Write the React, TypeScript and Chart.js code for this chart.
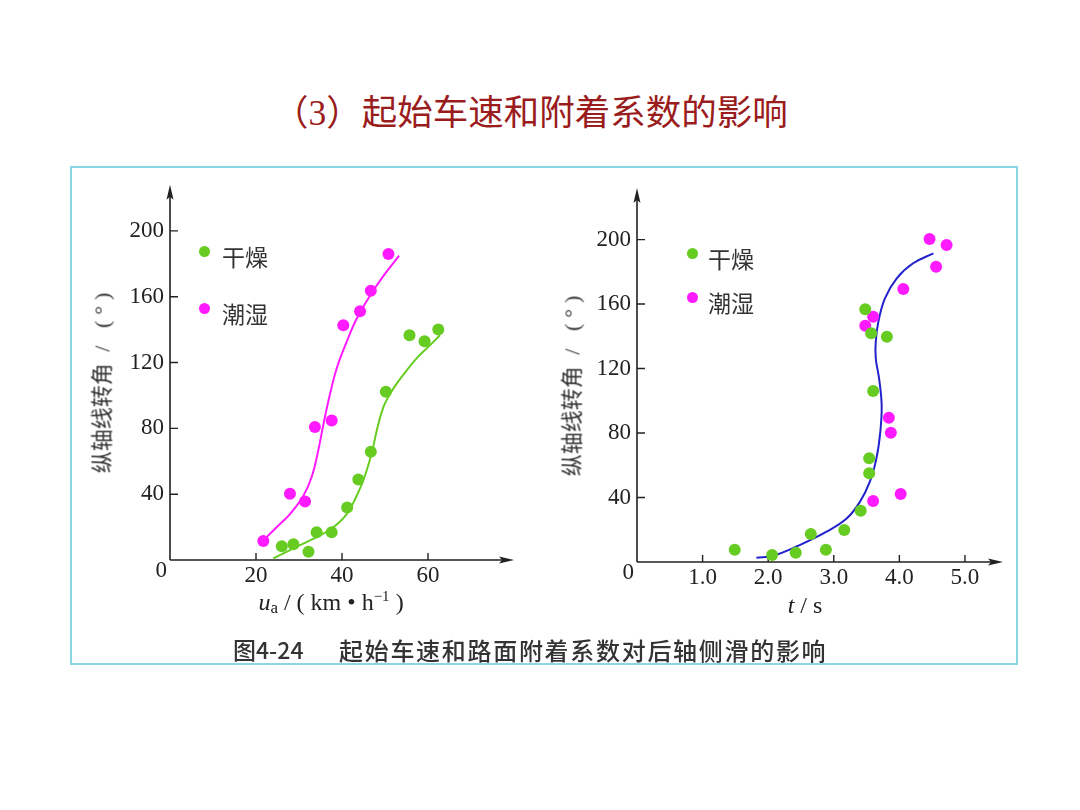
import React, { useEffect, useRef } from "react";
import { Chart, registerables } from "chart.js";

Chart.register(...registerables);

// ---------- Left chart: initial speed (km/h) vs yaw angle ----------
const speedDryX = [26.0, 28.7, 32.2, 34.1, 37.6, 41.2, 43.8, 46.7, 50.2, 55.7, 59.2, 62.4];
const speedDryY = [8.4, 9.6, 5.0, 16.9, 16.9, 31.9, 48.9, 65.8, 102.2, 136.6, 133.0, 140.0];
const speedWetX = [21.7, 27.9, 31.4, 33.7, 37.6, 40.3, 44.2, 46.7, 50.8];
const speedWetY = [11.5, 40.3, 35.5, 80.8, 84.8, 142.6, 151.2, 163.6, 185.9];
const speedDryCurveX = [24.0, 27.1, 31.0, 34.9, 38.0, 41.1, 43.4, 45.3, 46.9, 48.1, 49.6, 51.6, 54.3, 57.4, 60.5, 62.8];
const speedDryCurveY = [1.0, 5.0, 10.0, 15.0, 19.9, 27.9, 38.9, 50.9, 64.8, 78.8, 92.8, 102.7, 112.7, 122.7, 130.6, 136.6];
const speedWetCurveX = [22.1, 24.8, 27.9, 31.0, 33.0, 34.5, 35.7, 37.2, 38.8, 41.1, 43.4, 46.5, 49.6, 53.3];
const speedWetCurveY = [13.0, 19.9, 27.9, 38.9, 50.9, 66.8, 82.8, 100.7, 116.7, 132.7, 146.6, 160.6, 172.5, 184.9];
const speedTicks = [20, 40, 60];

// ---------- Right chart: time (s) vs yaw angle ----------
const timeDryX = [1.49, 2.06, 2.42, 2.65, 2.88, 3.16, 3.41, 3.54, 3.54, 3.6, 3.57, 3.48, 3.81];
const timeDryY = [7.6, 4.3, 5.8, 17.4, 7.6, 19.9, 31.8, 55.0, 64.3, 106.1, 141.9, 156.8, 139.8];
const timeWetX = [3.48, 3.6, 3.6, 3.84, 3.87, 4.02, 4.06, 4.46, 4.56, 4.72];
const timeWetY = [146.6, 152.2, 37.9, 89.5, 80.2, 42.2, 169.4, 200.4, 183.2, 196.7];
const timeCurveX = [1.82, 2.08, 2.48, 2.89, 3.2, 3.4, 3.55, 3.65, 3.71, 3.73, 3.69, 3.64, 3.64, 3.68, 3.78, 3.96, 4.21, 4.52];
const timeCurveY = [2.7, 3.9, 10.5, 18.8, 27.1, 37.4, 49.8, 64.3, 80.9, 97.4, 114.0, 126.4, 136.7, 149.1, 163.6, 176.0, 185.3, 191.5];
const timeTicks = [1, 2, 3, 4, 5];

const angleTicks = [40, 80, 120, 160, 200];
const legendLabels = ["干燥", "潮湿"];

const GREEN = "#66cc22";
const MAGENTA = "#ff1aff";
const BLUE = "#2222cc";
const AXIS = "#222";
const SERIF = "'Liberation Serif', 'Times New Roman', serif";
const CJK = "'Noto Sans CJK SC', 'Noto Sans', sans-serif";

const pts = (xs: number[], ys: number[]) => xs.map((x, i) => ({ x, y: ys[i] }));

const arrowAxes = {
  id: "arrowAxes",
  beforeDatasetsDraw(chart: any) {
    const { ctx, chartArea, scales } = chart;
    const xs = scales.x;
    const ys = scales.y;
    const ox = xs.getPixelForValue(xs.min);
    const oy = ys.getPixelForValue(ys.min);
    const right = chartArea.right;
    const top = chartArea.top;
    ctx.save();
    ctx.strokeStyle = AXIS;
    ctx.fillStyle = AXIS;
    ctx.lineWidth = 1.6;
    ctx.beginPath();
    ctx.moveTo(ox, oy);
    ctx.lineTo(right - 8, oy);
    ctx.moveTo(ox, oy);
    ctx.lineTo(ox, top + 8);
    ctx.stroke();
    // arrowheads
    ctx.beginPath();
    ctx.moveTo(right, oy);
    ctx.lineTo(right - 15, oy - 3.5);
    ctx.lineTo(right - 12, oy);
    ctx.lineTo(right - 15, oy + 3.5);
    ctx.closePath();
    ctx.fill();
    ctx.beginPath();
    ctx.moveTo(ox, top);
    ctx.lineTo(ox - 3.5, top + 15);
    ctx.lineTo(ox, top + 12);
    ctx.lineTo(ox + 3.5, top + 15);
    ctx.closePath();
    ctx.fill();
    // inward tick marks
    ctx.lineWidth = 1.4;
    ctx.beginPath();
    xs.ticks.forEach((t: any) => {
      const p = xs.getPixelForValue(t.value);
      ctx.moveTo(p, oy);
      ctx.lineTo(p, oy - 7);
    });
    ys.ticks.forEach((t: any) => {
      const p = ys.getPixelForValue(t.value);
      ctx.moveTo(ox, p);
      ctx.lineTo(ox + 8, p);
    });
    ctx.stroke();
    // origin label
    ctx.font = `23px ${SERIF}`;
    ctx.textAlign = "right";
    ctx.textBaseline = "middle";
    ctx.fillStyle = AXIS;
    ctx.fillText("0", ox - 3, oy + 11);
    ctx.restore();
  },
};

type Cfg = {
  datasets: any[];
  xMax: number;
  yMax: number;
  xTicks: number[];
  xFmt: (v: number) => string;
  yWidth: number;
  xHeight: number;
  padTop: number;
  padRight: number;
};

function buildConfig(c: Cfg): any {
  return {
    type: "scatter",
    data: { datasets: c.datasets },
    plugins: [arrowAxes],
    options: {
      animation: false,
      responsive: false,
      events: [],
      layout: { padding: { left: 0, top: c.padTop, right: c.padRight, bottom: 0 } },
      plugins: { legend: { display: false }, tooltip: { enabled: false } },
      scales: {
        x: {
          type: "linear",
          min: 0,
          max: c.xMax,
          grid: { display: false, drawTicks: false },
          border: { display: false },
          afterBuildTicks: (s: any) => {
            s.ticks = c.xTicks.map((v) => ({ value: v }));
          },
          afterFit: (s: any) => {
            s.height = c.xHeight;
          },
          ticks: {
            font: { family: SERIF, size: 23 },
            color: AXIS,
            padding: 2,
            maxRotation: 0,
            autoSkip: false,
            callback: (v: any) => c.xFmt(Number(v)),
          },
        },
        y: {
          type: "linear",
          min: 0,
          max: c.yMax,
          grid: { display: false, drawTicks: false },
          border: { display: false },
          afterBuildTicks: (s: any) => {
            s.ticks = angleTicks.map((v) => ({ value: v }));
          },
          afterFit: (s: any) => {
            s.width = c.yWidth;
          },
          ticks: {
            font: { family: SERIF, size: 23 },
            color: AXIS,
            padding: 6,
            autoSkip: false,
            callback: (v: any) => String(v),
          },
        },
      },
    },
  };
}

const dots = (data: any[], color: string) => ({
  data,
  backgroundColor: color,
  borderWidth: 0,
  pointRadius: 6,
  showLine: false,
  order: 0,
});

const curve = (data: any[], color: string) => ({
  data,
  borderColor: color,
  borderWidth: 2,
  pointRadius: 0,
  showLine: true,
  tension: 0.4,
  fill: false,
  order: 1,
});

function ChartBox({ left, top, width, height, config }: any) {
  const ref = useRef<HTMLCanvasElement | null>(null);
  useEffect(() => {
    const chart = new Chart(ref.current as HTMLCanvasElement, config);
    return () => chart.destroy();
  }, []);
  return (
    <canvas
      ref={ref}
      width={width}
      height={height}
      style={{ position: "absolute", left, top, width, height }}
    />
  );
}

function Legend({ x, y1, y2, tx }: { x: number; y1: number; y2: number; tx: number }) {
  const item = (cy: number, color: string, label: string) => (
    <>
      <div
        style={{
          position: "absolute",
          left: x - 5.5,
          top: cy - 5.5,
          width: 11,
          height: 11,
          borderRadius: "50%",
          background: color,
        }}
      />
      <div
        style={{
          position: "absolute",
          left: tx,
          top: cy - 12,
          height: 24,
          lineHeight: "24px",
          font: `23px ${CJK}`,
          color: "#333",
          whiteSpace: "nowrap",
        }}
      >
        {label}
      </div>
    </>
  );
  return (
    <>
      {item(y1, GREEN, legendLabels[0])}
      {item(y2, MAGENTA, legendLabels[1])}
    </>
  );
}

function YTitle({ cx, cy }: { cx: number; cy: number }) {
  return (
    <div
      style={{
        position: "absolute",
        left: cx,
        top: cy,
        transform: "translate(-50%, -50%) rotate(-90deg)",
        whiteSpace: "nowrap",
        font: `22px ${CJK}`,
        color: "#333",
        lineHeight: "24px",
      }}
    >
      纵轴线转角
      <span style={{ fontFamily: SERIF, letterSpacing: "6px" }}> / (°)</span>
    </div>
  );
}

export default function App() {
  const leftCfg = buildConfig({
    datasets: [
      dots(pts(speedDryX, speedDryY), GREEN),
      dots(pts(speedWetX, speedWetY), MAGENTA),
      curve(pts(speedDryCurveX, speedDryCurveY), GREEN),
      curve(pts(speedWetCurveX, speedWetCurveY), MAGENTA),
    ],
    xMax: 80,
    yMax: 228,
    xTicks: speedTicks,
    xFmt: (v) => String(v),
    yWidth: 100,
    xHeight: 65,
    padTop: 14,
    padRight: 26,
  });
  const rightCfg = buildConfig({
    datasets: [
      dots(pts(timeDryX, timeDryY), GREEN),
      dots(pts(timeWetX, timeWetY), MAGENTA),
      curve(pts(timeCurveX, timeCurveY), BLUE),
    ],
    xMax: 5.58,
    yMax: 232,
    xTicks: timeTicks,
    xFmt: (v) => v.toFixed(1),
    yWidth: 97,
    xHeight: 63,
    padTop: 23,
    padRight: 17,
  });

  return (
    <div
      style={{
        position: "absolute",
        left: 0,
        top: 0,
        width: 1080,
        height: 810,
        background: "#fff",
        overflow: "hidden",
      }}
    >
      <div
        style={{
          position: "absolute",
          left: 273,
          top: 92,
          lineHeight: "36px",
          fontSize: 35.5,
          fontFamily: CJK,
          color: "#9a1c1c",
          whiteSpace: "nowrap",
        }}
      >
        （<span style={{ fontFamily: SERIF }}>3</span>）起始车速和附着系数的影响
      </div>

      <div
        style={{
          position: "absolute",
          left: 70,
          top: 166,
          width: 948,
          height: 499,
          boxSizing: "border-box",
          border: "2px solid #8ad6e2",
        }}
      />

      <ChartBox left={70} top={165} width={470} height={460} config={leftCfg} />
      <ChartBox left={540} top={165} width={480} height={460} config={rightCfg} />

      <Legend x={204} y1={251} y2={308} tx={222} />
      <Legend x={692} y1={253} y2={297} tx={708} />

      <YTitle cx={101} cy={380} />
      <YTitle cx={571} cy={383} />

      <div
        style={{
          position: "absolute",
          left: 331,
          top: 603,
          transform: "translate(-50%, -50%)",
          whiteSpace: "nowrap",
          font: `24px ${SERIF}`,
          color: "#222",
          lineHeight: "28px",
        }}
      >
        <i>u</i>
        <span style={{ fontSize: 17, position: "relative", top: 3 }}>a</span> / ( km • h
        <span style={{ fontSize: 15, position: "relative", top: -9 }}>−1</span> )
      </div>
      <div
        style={{
          position: "absolute",
          left: 805,
          top: 605,
          transform: "translate(-50%, -50%)",
          whiteSpace: "nowrap",
          font: `24px ${SERIF}`,
          color: "#222",
          lineHeight: "28px",
        }}
      >
        <i>t</i> / s
      </div>

      <div
        style={{
          position: "absolute",
          left: 233,
          top: 632,
          lineHeight: "24px",
          font: `500 23px ${CJK}`,
          color: "#333",
          whiteSpace: "nowrap",
        }}
      >
        图4-24
      </div>
      <div
        style={{
          position: "absolute",
          left: 339,
          top: 632,
          lineHeight: "24px",
          font: `500 24px ${CJK}`,
          letterSpacing: "1.7px",
          color: "#333",
          whiteSpace: "nowrap",
        }}
      >
        起始车速和路面附着系数对后轴侧滑的影响
      </div>
    </div>
  );
}
